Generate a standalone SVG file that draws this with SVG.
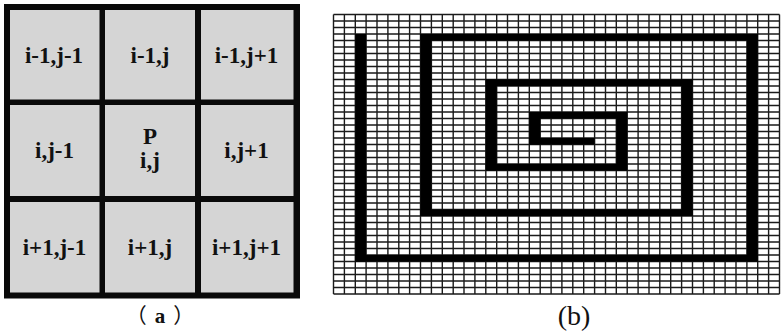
<svg xmlns="http://www.w3.org/2000/svg" width="782" height="333" viewBox="0 0 782 333">
<style>
.cell{fill:#d5d5d5}
.lbl{font-family:"Liberation Serif","Times New Roman",serif;font-weight:bold;font-size:23px;fill:#111;text-anchor:middle}
.grid{stroke:#1a1a1a;stroke-width:1.4;fill:none}
.sp{fill:#000}
.cjk{font-family:"Noto Sans CJK SC",sans-serif;font-weight:normal}
</style>
<rect width="782" height="333" fill="#fff"/>
<g id="panel-a">
<rect x="4" y="4" width="296" height="294.5" fill="#0a0a0a"/>
<g id="c11"><rect class="cell" x="10" y="10" width="89.5" height="89.5"/><text class="lbl" x="54" y="62.5">i-1,j-1</text></g>
<g id="c12"><rect class="cell" x="105" y="10" width="90" height="89.5"/><text class="lbl" x="150" y="62.5">i-1,j</text></g>
<g id="c13"><rect class="cell" x="201" y="10" width="92.5" height="89.5"/><text class="lbl" x="246.5" y="62.5">i-1,j+1</text></g>
<g id="c21"><rect class="cell" x="10" y="105" width="89.5" height="91"/><text class="lbl" x="54.5" y="158">i,j-1</text></g>
<g id="c22"><rect class="cell" x="105" y="105" width="90" height="91"/><text class="lbl" x="150" y="143.5">P</text><text class="lbl" x="150" y="168">i,j</text></g>
<g id="c23"><rect class="cell" x="201" y="105" width="92.5" height="91"/><text class="lbl" x="246.5" y="158">i,j+1</text></g>
<g id="c31"><rect class="cell" x="10" y="202" width="89.5" height="90.5"/><text class="lbl" x="54.5" y="255">i+1,j-1</text></g>
<g id="c32"><rect class="cell" x="105" y="202" width="90" height="90.5"/><text class="lbl" x="150" y="255">i+1,j</text></g>
<g id="c33"><rect class="cell" x="201" y="202" width="92.5" height="90.5"/><text class="lbl" x="246.5" y="255">i+1,j+1</text></g>
<text x="164" y="323" font-family="'Liberation Serif','Noto Sans CJK SC',serif" font-weight="bold" font-size="21" letter-spacing="8" text-anchor="middle" fill="#111"><tspan class="cjk">（</tspan>a<tspan class="cjk">）</tspan></text>
</g>
<g id="panel-b">
<path class="grid" d="M333.5 14.5V294M344.4 14.5V294M355.3 14.5V294M366.1 14.5V294M377 14.5V294M387.9 14.5V294M398.8 14.5V294M409.6 14.5V294M420.5 14.5V294M431.4 14.5V294M442.3 14.5V294M453.2 14.5V294M464 14.5V294M474.9 14.5V294M485.8 14.5V294M496.7 14.5V294M507.5 14.5V294M518.4 14.5V294M529.3 14.5V294M540.2 14.5V294M551.1 14.5V294M561.9 14.5V294M572.8 14.5V294M583.7 14.5V294M594.6 14.5V294M605.5 14.5V294M616.3 14.5V294M627.2 14.5V294M638.1 14.5V294M649 14.5V294M659.8 14.5V294M670.7 14.5V294M681.6 14.5V294M692.5 14.5V294M703.4 14.5V294M714.2 14.5V294M725.1 14.5V294M736 14.5V294M746.9 14.5V294M757.7 14.5V294M768.6 14.5V294M779.5 14.5V294
M333.5 14.5H779.5M333.5 21H779.5M333.5 27.5H779.5M333.5 34H779.5M333.5 40.5H779.5M333.5 47H779.5M333.5 53.5H779.5M333.5 60H779.5M333.5 66.5H779.5M333.5 73H779.5M333.5 79.5H779.5M333.5 86H779.5M333.5 92.5H779.5M333.5 99H779.5M333.5 105.5H779.5M333.5 112H779.5M333.5 118.5H779.5M333.5 125H779.5M333.5 131.5H779.5M333.5 138H779.5M333.5 144.5H779.5M333.5 151H779.5M333.5 157.5H779.5M333.5 164H779.5M333.5 170.5H779.5M333.5 177H779.5M333.5 183.5H779.5M333.5 190H779.5M333.5 196.5H779.5M333.5 203H779.5M333.5 209.5H779.5M333.5 216H779.5M333.5 222.5H779.5M333.5 229H779.5M333.5 235.5H779.5M333.5 242H779.5M333.5 248.5H779.5M333.5 255H779.5M333.5 261.5H779.5M333.5 268H779.5M333.5 274.5H779.5M333.5 281H779.5M333.5 287.5H779.5M333.5 294H779.5"/>
<g id="spiral" class="sp">
<rect x="355.3" y="34" width="10.8" height="227.5"/>
<rect x="355.3" y="255" width="402.4" height="6.5"/>
<rect x="746.9" y="34" width="10.8" height="227.5"/>
<rect x="420.5" y="34" width="337.2" height="6.5"/>
<rect x="420.5" y="34" width="10.9" height="182"/>
<rect x="420.5" y="209.5" width="272" height="6.5"/>
<rect x="681.6" y="79.5" width="10.9" height="136.5"/>
<rect x="485.8" y="79.5" width="206.7" height="6.5"/>
<rect x="485.8" y="79.5" width="10.9" height="91"/>
<rect x="485.8" y="164" width="141.4" height="6.5"/>
<rect x="616.3" y="112" width="10.9" height="58.5"/>
<rect x="529.3" y="112" width="97.9" height="6.5"/>
<rect x="529.3" y="112" width="10.9" height="32.5"/>
<rect x="529.3" y="138" width="65.3" height="6.5"/>
</g>
<text x="574" y="325" font-family="'Liberation Serif',serif" font-size="28" text-anchor="middle" fill="#111">(b)</text>
</g>
</svg>
